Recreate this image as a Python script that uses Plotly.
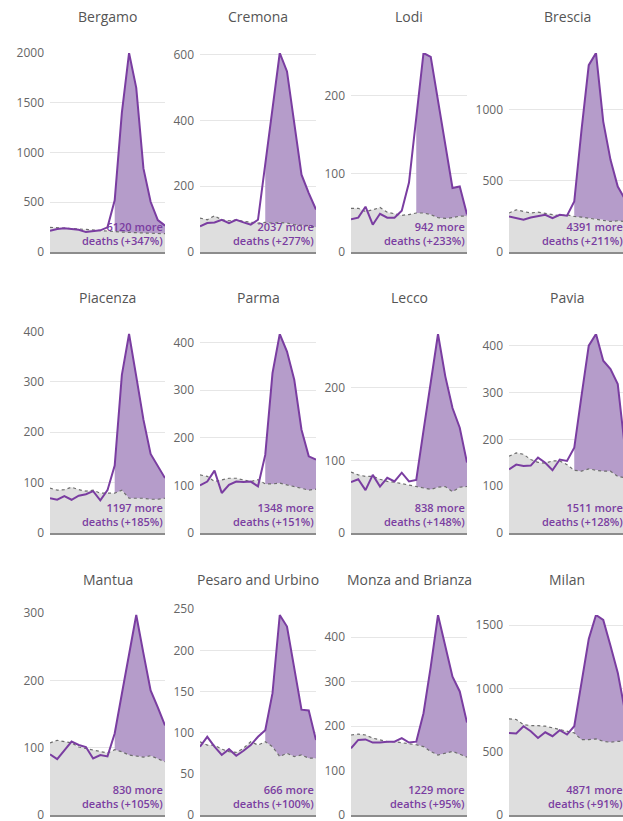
import math
import plotly.graph_objects as go
from plotly.subplots import make_subplots

# weekly deaths, 2020 vs. usual (average of previous years)
weeks = [1, 2, 3, 4, 5, 6, 7, 8, 9, 10, 11, 12, 13, 14, 15, 16, 17]
excess_from_week = 10

provinces = ["Bergamo", "Cremona", "Lodi", "Brescia",
             "Piacenza", "Parma", "Lecco", "Pavia",
             "Mantua", "Pesaro and Urbino", "Monza and Brianza", "Milan"]
extra_deaths = [6120, 2037, 942, 4391, 1197, 1348, 838, 1511, 830, 666, 1229, 4871]
extra_pct = [347, 277, 233, 211, 185, 151, 148, 128, 105, 100, 95, 91]
tick_step = [500, 200, 100, 500, 100, 100, 100, 100, 100, 50, 100, 500]

bergamo_2020 = [214, 230, 238, 228, 224, 200, 208, 218, 248, 520, 1400, 2000, 1650, 840, 505, 320, 265]
bergamo_usual = [248, 242, 240, 236, 232, 228, 222, 216, 212, 205, 200, 196, 192, 190, 188, 186, 185]

cremona_2020 = [78, 88, 90, 98, 88, 98, 90, 83, 98, 270, 430, 605, 549, 392, 235, 179, 129]
cremona_usual = [103, 98, 110, 98, 95, 98, 93, 90, 88, 90, 88, 90, 88, 83, 81, 80, 75]

lodi_2020 = [42, 44, 58, 35, 49, 44, 44, 53, 89, 170, 255, 250, 193, 136, 82, 84, 48]
lodi_usual = [56, 56, 52, 54, 57, 51, 49, 47, 48, 50, 50, 48, 44, 43, 44, 46, 46]

brescia_2020 = [249, 238, 226, 242, 254, 261, 238, 261, 254, 354, 855, 1310, 1395, 914, 646, 459, 370]
brescia_usual = [273, 296, 284, 273, 280, 273, 261, 254, 261, 249, 245, 238, 231, 226, 214, 219, 214]

piacenza_2020 = [69, 66, 73, 66, 74, 77, 83, 65, 85, 134, 314, 395, 311, 225, 157, 132, 109]
piacenza_usual = [89, 85, 86, 91, 86, 83, 85, 79, 79, 79, 85, 69, 69, 69, 67, 67, 69]

parma_2020 = [100, 108, 131, 84, 101, 108, 107, 108, 98, 164, 336, 418, 381, 322, 217, 161, 154]
parma_usual = [122, 119, 108, 112, 115, 115, 112, 108, 112, 103, 103, 105, 101, 98, 94, 90, 92]

lecco_2020 = [70, 74, 59, 80, 64, 76, 71, 83, 71, 73, 141, 206, 274, 216, 172, 145, 97]
lecco_usual = [84, 80, 78, 78, 74, 71, 70, 68, 67, 64, 62, 60, 63, 64, 57, 63, 64]

pavia_2020 = [136, 146, 143, 144, 161, 150, 134, 157, 154, 182, 293, 400, 425, 368, 350, 318, 180]
pavia_usual = [164, 171, 168, 157, 151, 149, 154, 154, 146, 134, 132, 137, 134, 132, 132, 121, 118]

mantua_2020 = [90, 83, 96, 109, 104, 101, 84, 89, 87, 121, 180, 240, 297, 240, 185, 160, 133]
mantua_usual = [107, 111, 109, 107, 101, 99, 97, 94, 92, 97, 94, 89, 87, 86, 88, 84, 79]

pesaro_2020 = [83, 95, 83, 73, 80, 72, 78, 85, 95, 103, 148, 243, 229, 180, 128, 127, 91]
pesaro_usual = [89, 85, 85, 80, 77, 76, 81, 89, 85, 89, 83, 71, 75, 71, 73, 69, 69]

monza_2020 = [150, 169, 170, 163, 163, 165, 165, 173, 163, 165, 229, 334, 450, 383, 311, 278, 208]
monza_usual = [180, 182, 180, 173, 169, 165, 165, 163, 160, 158, 154, 143, 135, 139, 143, 137, 130]

milan_2020 = [648, 643, 701, 661, 608, 653, 622, 669, 635, 701, 1045, 1389, 1579, 1540, 1336, 1124, 820]
milan_usual = [759, 754, 714, 706, 706, 701, 688, 675, 661, 648, 595, 595, 601, 582, 574, 582, 582]

deaths_2020 = [bergamo_2020, cremona_2020, lodi_2020, brescia_2020,
               piacenza_2020, parma_2020, lecco_2020, pavia_2020,
               mantua_2020, pesaro_2020, monza_2020, milan_2020]
deaths_usual = [bergamo_usual, cremona_usual, lodi_usual, brescia_usual,
                piacenza_usual, parma_usual, lecco_usual, pavia_usual,
                mantua_usual, pesaro_usual, monza_usual, milan_usual]

W, H = 623, 821
PURPLE = "#7a3da1"
PURPLE_FILL = "#b59cca"
GREY_FILL = "#dedede"
FONT = "Open Sans"

# pixel boxes: x extent of each column (last one runs past the page edge),
# y of each row's peak and of its zero line
col_px = [(50, 165), (200, 316), (351, 467), (509, 625)]
row_px = [(53, 252), (334, 533), (615, 815)]
title_px = [16, 298, 579]

fig = make_subplots(rows=3, cols=4)
annotations = []

for k, name in enumerate(provinces):
    r, c = divmod(k, 4)
    line = deaths_2020[k]
    usual = deaths_usual[k]
    i0 = weeks.index(excess_from_week)

    # usual deaths: grey area
    fig.add_trace(go.Scatter(x=weeks, y=usual, mode="lines", fill="tozeroy",
                             fillcolor=GREY_FILL, line=dict(width=0),
                             hoverinfo="skip", showlegend=False), row=r + 1, col=c + 1)
    # excess deaths: purple area between usual and 2020
    fig.add_trace(go.Scatter(x=weeks[i0:] + weeks[i0:][::-1],
                             y=line[i0:] + usual[i0:][::-1],
                             mode="lines", fill="toself", fillcolor=PURPLE_FILL,
                             line=dict(width=0), hoverinfo="skip", showlegend=False),
                  row=r + 1, col=c + 1)
    fig.add_trace(go.Scatter(x=weeks, y=usual, mode="lines",
                             line=dict(color="#6e6e6e", width=1.2, dash="dot"),
                             hoverinfo="skip", showlegend=False), row=r + 1, col=c + 1)
    fig.add_trace(go.Scatter(x=weeks, y=line, mode="lines",
                             line=dict(color=PURPLE, width=2),
                             showlegend=False), row=r + 1, col=c + 1)

    x0, x1 = col_px[c]
    y_peak, y_zero = row_px[r]
    peak = max(line)
    # a tick just above the peak still gets its gridline
    next_tick = math.ceil(peak / tick_step[k]) * tick_step[k]
    y_max = next_tick if (next_tick - peak) / peak < 0.035 else peak
    y_top = y_zero - (y_zero - y_peak) * y_max / peak

    ax = "" if k == 0 else str(k + 1)
    vis_x1 = min(x1, W)
    span = weeks[-1] - weeks[0]
    fig.layout["xaxis" + ax].update(
        domain=[x0 / W, vis_x1 / W],
        range=[weeks[0], weeks[0] + span * (vis_x1 - x0) / (x1 - x0)],
        showgrid=False, zeroline=False, showticklabels=False, automargin=False,
        showline=True, linecolor="#8c8c8c", linewidth=2, fixedrange=True)
    fig.layout["yaxis" + ax].update(
        domain=[1 - y_zero / H, 1 - y_top / H],
        range=[0, y_max], dtick=tick_step[k], tick0=0, automargin=False,
        showgrid=True, gridcolor="#e6e6e6", gridwidth=1, zeroline=False,
        showline=False, ticks="", ticklabelstandoff=5, ticklabeloverflow="allow",
        tickfont=dict(family=FONT, size=12, color="#666666"), fixedrange=True)

    annotations.append(dict(
        text=name, xref="paper", yref="paper",
        x=(x0 + x1) / 2 / W, y=1 - title_px[r] / H,
        xanchor="center", yanchor="middle", showarrow=False,
        font=dict(family=FONT, size=14, color="#555555")))
    annotations.append(dict(
        text=f"{extra_deaths[k]} more<br>deaths (+{extra_pct[k]}%)",
        xref="paper", yref="paper", x=x1 / W, y=1 - y_zero / H, yshift=2,
        xanchor="right", yanchor="bottom", align="right", showarrow=False,
        font=dict(family=FONT, size=11, color=PURPLE, weight=600)))

fig.update_layout(
    template="none",
    width=W, height=H,
    margin=dict(l=0, r=0, t=0, b=0, autoexpand=False),
    paper_bgcolor="white", plot_bgcolor="white",
    annotations=annotations,
    font=dict(family=FONT),
)

# the page's default body margin would push the figure off the window
fig.write_html("out.html", config={"displayModeBar": False},
               post_script="document.body.style.margin='0';document.body.style.overflow='hidden';")
